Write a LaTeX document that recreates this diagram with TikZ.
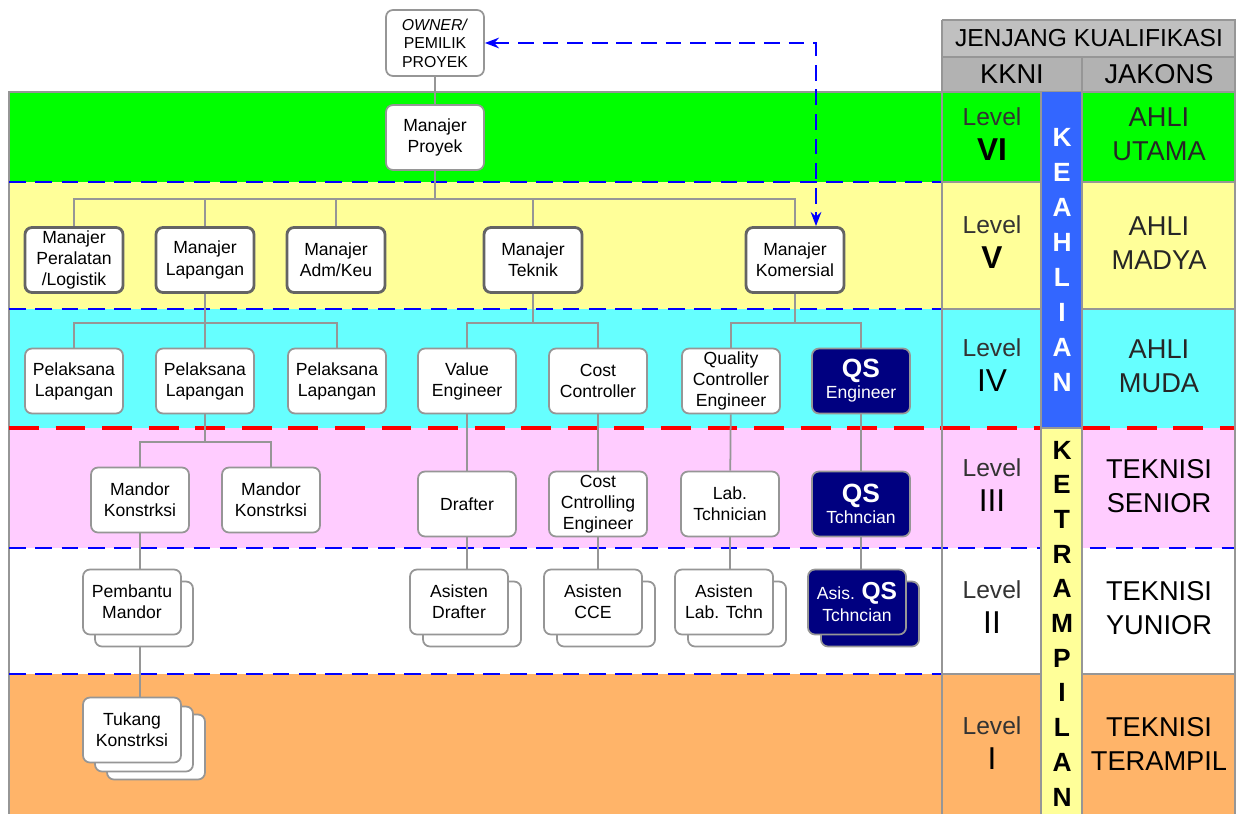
\documentclass[tikz,border=0pt]{standalone}
\usepackage{fontspec}
\setmainfont{Liberation Sans}
\usetikzlibrary{arrows.meta,positioning}
\definecolor{lvlgreen}{RGB}{0,255,0}
\definecolor{lvlyellow}{RGB}{255,255,153}
\definecolor{lvlcyan}{RGB}{102,255,255}
\definecolor{lvlpink}{RGB}{255,204,255}
\definecolor{lvlorange}{RGB}{255,180,105}
\definecolor{qsnavy}{RGB}{0,0,128}
\definecolor{hdrgray}{RGB}{192,192,192}
\definecolor{hdrdark}{RGB}{178,178,178}
\definecolor{skillblue}{RGB}{51,102,255}
\definecolor{linegray}{RGB}{150,150,150}
\definecolor{boxdark}{RGB}{100,100,100}
\definecolor{tierblue}{RGB}{0,0,255}
\definecolor{tierred}{RGB}{255,0,0}
\pgfdeclarelayer{bands}
\pgfdeclarelayer{links}
\pgfsetlayers{bands,links,main}

\begin{document}
\begin{tikzpicture}[x=0.2mm,y=-0.2mm,
  orgbox/.style={draw=linegray,line width=1pt,fill=white,rounded corners=4pt,minimum width=19.6mm,minimum height=13mm,inner sep=0pt,align=center,font=\fontsize{10}{12}\selectfont},
  mgrbox/.style={orgbox,draw=boxdark,line width=1.6pt},
  qsbox/.style={orgbox,fill=qsnavy,text=white},
  link/.style={draw=linegray,line width=1pt},
  tierline/.style={tierblue,line width=1.2pt,dash pattern=on 9.5pt off 5.5pt},
  skillline/.style={tierred,line width=1.8pt,dash pattern=on 17pt off 9.5pt},
  lvltext/.style={align=center,text=black!80,font=\fontsize{14}{20}\selectfont},
  jakons/.style={align=center,text=black!85,font=\fontsize{15.5}{19.5}\selectfont},
  hdrtext/.style={font=\fontsize{15.5}{16}\selectfont},
  stripletter/.style={font=\fontsize{15}{15}\selectfont\bfseries,inner sep=0pt}]
\useasboundingbox (0,0) rectangle (1236,814);

% tiers and qualification table
\begin{pgfonlayer}{bands}
\fill[lvlgreen] (9,92) rectangle (1236,182);
\fill[lvlyellow] (9,182) rectangle (1236,309);
\fill[lvlcyan] (9,309) rectangle (1236,428);
\fill[lvlpink] (9,428) rectangle (1236,548);
\fill[white] (9,548) rectangle (1236,674);
\fill[lvlorange] (9,674) rectangle (1236,814);
\fill[hdrgray] (942,20) rectangle (1236,57);
\fill[hdrdark] (942,57) rectangle (1236,92);
\draw[linegray,line width=1pt] (9,814) -- (9,92) -- (942,92);
\foreach \yy in {182,309,674} {
  \draw[tierline] (9,\yy) -- (942,\yy);
  \draw[linegray,line width=1pt] (942,\yy) -- (1236,\yy);
}
\draw[skillline] (9,428) -- (1236,428);
\draw[tierline] (9,548) -- (1236,548);
\foreach \yy in {20,57,92} \draw[linegray,line width=1pt] (942,\yy) -- (1236,\yy);
\fill[skillblue] (1041,92) rectangle (1082,428);
\fill[lvlyellow] (1041,428) rectangle (1082,814);
\draw[linegray,line width=1pt] (1041,428) -- (1082,428);
\draw[linegray,line width=1pt] (942,20) -- (942,814) (1041,92) -- (1041,814) (1082,57) -- (1082,814) (1235,20) -- (1235,814);
\end{pgfonlayer}

\node[hdrtext,font=\fontsize{14}{14}\selectfont] (jk) at (1089,38) {JENJANG KUALIFIKASI};
\node[hdrtext] (kkni) at (1012,74) {KKNI};
\node[hdrtext] (jkn) at (1159,74) {JAKONS};

\node[lvltext] (lv6) at (992,134) {Level\\{\fontsize{18}{20}\selectfont\bfseries\color{black} VI}};
\node[lvltext] (lv5) at (992,242) {Level\\{\fontsize{18}{20}\selectfont\bfseries\color{black} V}};
\node[lvltext] (lv4) at (992,365) {Level\\{\fontsize{18}{20}\selectfont\color{black} IV}};
\node[lvltext] (lv3) at (992,485) {Level\\{\fontsize{18}{20}\selectfont\color{black} III}};
\node[lvltext] (lv2) at (992,607) {Level\\{\fontsize{18}{20}\selectfont\color{black} II}};
\node[lvltext] (lv1) at (992,743) {Level\\{\fontsize{18}{20}\selectfont\color{black} I}};

\node[jakons] (jk6) at (1159,134) {AHLI\\UTAMA};
\node[jakons] (jk5) at (1159,243) {AHLI\\MADYA};
\node[jakons] (jk4) at (1159,366) {AHLI\\MUDA};
\node[jakons,text=black] (jk3) at (1159,486) {TEKNISI\\SENIOR};
\node[jakons,text=black] (jk2) at (1159,608) {TEKNISI\\YUNIOR};
\node[jakons,text=black] (jk1) at (1159,744) {TEKNISI\\TERAMPIL};

\foreach \c [count=\i from 0] in {K,E,A,H,L,I,A,N}
  \node[stripletter,text=white] (kh\i) at (1062,137+35*\i) {\c};
\foreach \c [count=\i from 0] in {K,E,T,R,A,M,P,I,L,A,N}
  \node[stripletter] (kt\i) at (1062,450+34.7*\i) {\c};

% organisation
\node[orgbox,minimum height=13.2mm,font=\fontsize{9}{10.5}\selectfont] (own) at (435,43) {\textit{OWNER/}\\PEMILIK\\PROYEK};
\node[orgbox] (mp) at (435,137.5) {Manajer\\Proyek};

\node[mgrbox] (mv1) at (74,260) {Manajer\\Peralatan\\/Logistik};
\node[mgrbox] (mv2) at (205,260) {Manajer\\Lapangan};
\node[mgrbox] (mv3) at (336,260) {Manajer\\Adm/Keu};
\node[mgrbox] (mv4) at (533,260) {Manajer\\Teknik};
\node[mgrbox] (mv5) at (795,260) {Manajer\\Komersial};

\node[orgbox] (pl1) at (74,381) {Pelaksana\\Lapangan};
\node[orgbox] (pl2) at (205,381) {Pelaksana\\Lapangan};
\node[orgbox] (pl3) at (337,381) {Pelaksana\\Lapangan};
\node[orgbox] (ve) at (467,381) {Value\\Engineer};
\node[orgbox] (cc) at (598,381) {Cost\\Controller};
\node[orgbox] (qce) at (731,381) {Quality\\Controller\\Engineer};
\node[qsbox] (qse) at (861,381) {{\fontsize{15}{15}\selectfont\bfseries QS}\\Engineer};

\node[orgbox] (m1) at (140,500) {Mandor\\Konstrksi};
\node[orgbox] (m2) at (271,500) {Mandor\\Konstrksi};
\node[orgbox] (dr) at (467,504) {Drafter};
\node[orgbox] (cce) at (598,504) {Cost\\Cntrolling\\Engineer};
\node[orgbox] (lab) at (730,504) {Lab.\\Tchnician};
\node[qsbox] (qst) at (861,504) {{\fontsize{15}{15}\selectfont\bfseries QS}\\Tchncian};

\node[orgbox] (pm2) at (144,614) {};
\node[orgbox] (pm) at (132,602) {Pembantu\\Mandor};
\node[orgbox] (ad2) at (472,614) {};
\node[orgbox] (ad) at (459,602) {Asisten\\Drafter};
\node[orgbox] (ac2) at (606,614) {};
\node[orgbox] (ac) at (593,602) {Asisten\\CCE};
\node[orgbox] (al2) at (737,614) {};
\node[orgbox] (al) at (724,602) {Asisten\\Lab. Tchn};
\node[qsbox] (aq2) at (870,614) {};
\node[qsbox] (aq) at (857,602) {Asis. {\fontsize{14}{14}\selectfont\bfseries QS}\\Tchncian};

\node[orgbox] (tk3) at (156,747) {};
\node[orgbox] (tk2) at (144,739) {};
\node[orgbox] (tk) at (132,730) {Tukang\\Konstrksi};

\draw[tierblue,line width=1.3pt,dash pattern=on 9pt off 5pt,{Stealth[length=8pt]}-{Stealth[length=8pt]}] (own.east) -| ([xshift=4.2mm]mv5.north);

\begin{pgfonlayer}{links}
\coordinate (busV) at (435,199);
\coordinate (busL) at (205,323);
\coordinate (busT) at (533,323);
\coordinate (busK) at (795,323);
\coordinate (busM) at (205,442);
\draw[link] (own) -- (mp);
\draw[link] (mp) -- (busV);
\draw[link] (mv1) |- (busV) -| (mv5);
\foreach \n in {mv2,mv3,mv4} \draw[link] (\n) -- (\n |- busV);
\draw[link] (mv2) -- (pl2);
\draw[link] (pl1) |- (busL) -| (pl3);
\draw[link] (mv4) -- (busT);
\draw[link] (ve) |- (busT) -| (cc);
\draw[link] (mv5) -- (busK);
\draw[link] (qce) |- (busK) -| (qse);
\draw[link] (pl2) -- (busM);
\draw[link] (m1) |- (busM) -| (m2);
\draw[link] (ve) -- (dr);
\draw[link] (cc) -- (cce);
\draw[link] (qce) -- (lab);
\draw[link] (qse) -- (qst);
\draw[link] (m1) -- (m1 |- tk.north);
\draw[link] (dr) -- (dr |- ad.north);
\draw[link] (cce) -- (cce |- ac.north);
\draw[link] (lab) -- (lab |- al.north);
\draw[link] (qst) -- (qst |- aq.north);
\end{pgfonlayer}
\end{tikzpicture}
\end{document}
